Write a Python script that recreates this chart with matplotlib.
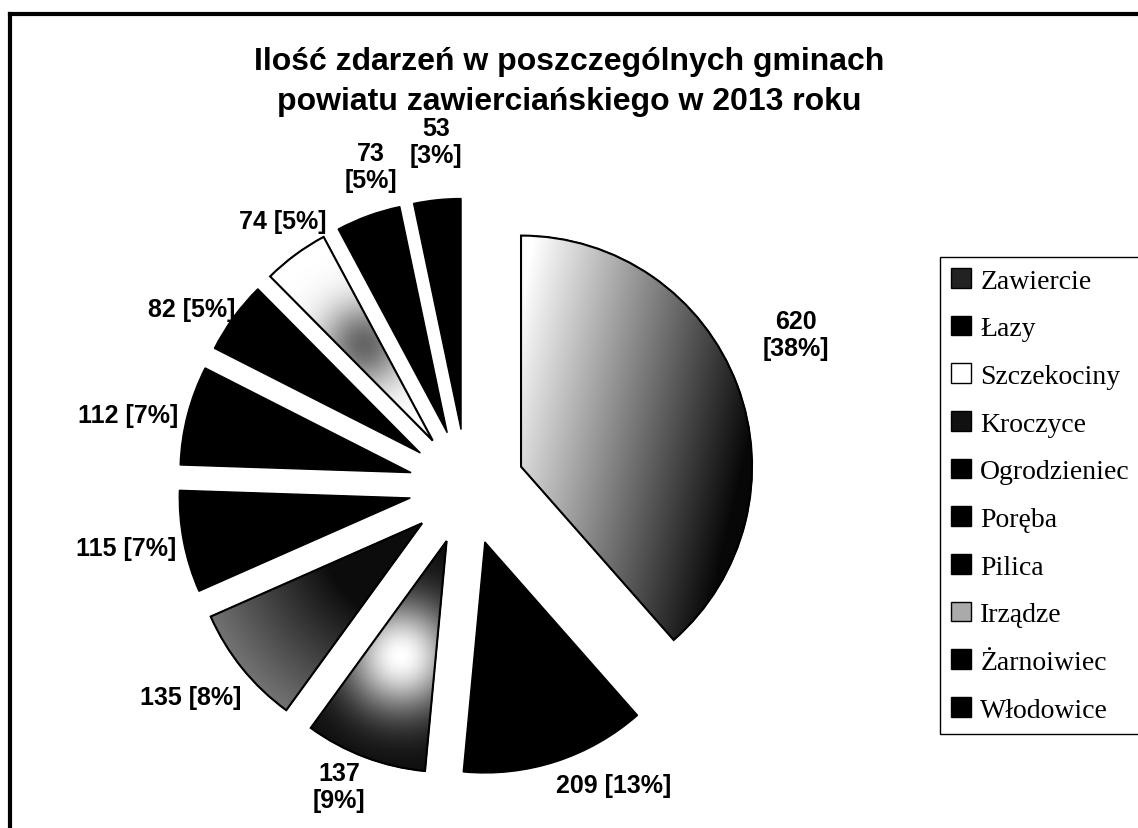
import numpy as np
import matplotlib
matplotlib.use("Agg")
import matplotlib.pyplot as plt
import matplotlib.patches as mpatches
from matplotlib.lines import Line2D

# data
gminy = ["Zawiercie", "Łazy", "Szczekociny", "Kroczyce", "Ogrodzieniec",
         "Poręba", "Pilica", "Irządze", "Żarnoiwiec", "Włodowice"]
zdarzenia = [620, 209, 137, 135, 115, 112, 82, 74, 73, 53]
procenty = [38, 13, 9, 8, 7, 7, 5, 5, 5, 3]

# label layout (style only)
separators = ["\n", " ", "\n", " ", " ", " ", " ", " ", "\n", "\n"]
label_dist = [1.32, 1.19, 1.16, 1.25, 1.25, 1.25, 1.17, 1.15, 1.2, 1.25]
label_turn = [5, 10, -3, -2, -1, 3, 4, -2, -4, -1]
colors = ["#222222", "black", "white", "#111111", "black",
          "black", "black", "#aaaaaa", "black", "black"]

W, H = 1138, 829
fig = plt.figure(figsize=(W / 100, H / 100), dpi=100)
ax = fig.add_axes([0, 0, 1, 1])

wedges, _ = ax.pie(zdarzenia, explode=[0.25] * len(zdarzenia), startangle=90,
                   counterclock=False, colors=colors,
                   wedgeprops=dict(edgecolor="black", linewidth=1))

# pie center at (467, 488) px, radius 231 px
cxp, cyp, rp = 467, H - 488, 231
ax.set_aspect("auto")
ax.set_xlim(-cxp / rp, (W - cxp) / rp)
ax.set_ylim(-cyp / rp, (H - cyp) / rp)
ax.axis("off")


def shade(w, func):
    cx, cy = w.center
    r = w.r
    n = 300
    xs = np.linspace(cx - r, cx + r, n)
    ys = np.linspace(cy - r, cy + r, n)
    X, Y = np.meshgrid(xs, ys)
    Z = func(X - cx, Y - cy)
    im = ax.imshow(Z, extent=(cx - r, cx + r, cy - r, cy + r), origin="lower",
                   cmap="gray", vmin=0, vmax=1, aspect="auto",
                   interpolation="bilinear", zorder=w.get_zorder() + 0.1)
    im.set_clip_path(w)
    ax.add_patch(mpatches.Wedge(w.center, r, w.theta1, w.theta2, fill=False,
                                edgecolor="black", lw=1.5,
                                zorder=w.get_zorder() + 0.2))


def blob(px, py, s, dark=False):
    def f(dx, dy):
        g = np.exp(-((dx - px) ** 2 + (dy - py) ** 2) / (2 * s ** 2))
        return 1 - 0.6 * g if dark else 0.05 + 0.95 * g
    return f


shade(wedges[0], lambda dx, dy: np.clip(0.85 - 0.85 * dx + 0.2 * dy, 0.03, 1))
shade(wedges[2], blob(-0.2, -0.5, 0.17))
shade(wedges[3], lambda dx, dy: 0.05 + 0.4 * np.clip((np.hypot(dx, dy) - 0.45) / 0.55, 0, 1))
shade(wedges[7], blob(-0.3, 0.42, 0.13, dark=True))

# value labels
for w, v, p, sep, d, t in zip(wedges, zdarzenia, procenty, separators,
                              label_dist, label_turn):
    ang = np.deg2rad((w.theta1 + w.theta2) / 2 + t)
    cx, cy = w.center
    ax.text(cx + d * w.r * np.cos(ang), cy + d * w.r * np.sin(ang),
            f"{v}{sep}[{p}%]", ha="center", va="center", fontsize=18,
            fontweight="bold", family="Liberation Sans", linespacing=1.15)

fig.text(0.5, 1 - 82 / H,
         "Ilość zdarzeń w poszczególnych gminach\npowiatu zawierciańskiego w 2013 roku",
         ha="center", va="center", fontsize=23, fontweight="bold",
         family="Liberation Sans", linespacing=1.4)

leg = fig.legend(wedges, gminy, loc="upper left",
                 bbox_to_anchor=(940 / W, 1 - 258 / H), frameon=True,
                 fancybox=False, edgecolor="black", framealpha=1,
                 borderpad=0.4, labelspacing=0.8, handlelength=0.7,
                 handleheight=0.7, handletextpad=0.35, borderaxespad=0,
                 prop=dict(family="Liberation Serif", size=20))
leg.get_frame().set_linewidth(1)

# outer frame (left and top visible)
fig.add_artist(Line2D([10 / W, 10 / W], [0, 1 - 15 / H], color="black", lw=3))
fig.add_artist(Line2D([10 / W, 1], [1 - 15 / H, 1 - 15 / H], color="black", lw=3))

fig.savefig("out.png", dpi=100)
